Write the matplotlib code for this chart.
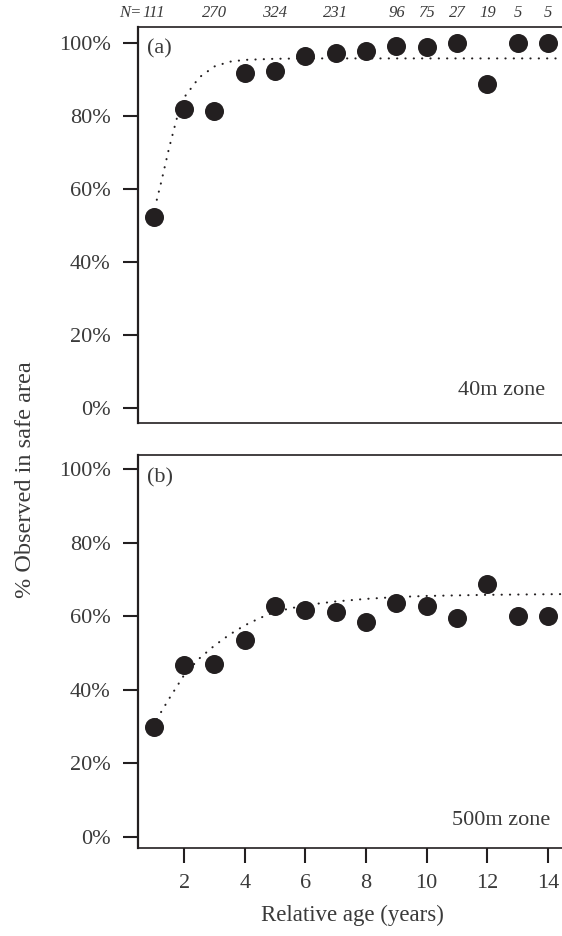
import matplotlib
matplotlib.use("Agg")
from matplotlib import pyplot as plt

# relative age (years)
age = [1, 2, 3, 4, 5, 6, 7, 8, 9, 10, 11, 12, 13, 14]

# % observed in safe area, panel (a) 40m zone
pct_40m = [52.4, 81.8, 81.2, 91.6, 92.2, 96.4, 97.3, 97.7, 99.2, 98.7, 100, 88.8, 100, 100]
# panel (b) 500m zone
pct_500m = [30.0, 46.7, 47.0, 53.5, 62.8, 61.7, 61.2, 58.5, 63.7, 62.8, 59.5, 68.8, 60.0, 60.0]

# fitted curves
fit_x_40m = [1.1, 1.25, 1.5, 1.75, 2, 2.5, 3, 3.5, 4, 5, 6, 8, 10, 12, 14.5]
fit_y_40m = [57, 62, 71, 79, 85, 90.5, 93.5, 94.8, 95.3, 95.6, 95.7, 95.7, 95.7, 95.7, 95.7]
fit_x_500m = [1.1, 1.5, 2, 2.5, 3, 3.5, 4, 4.5, 5, 6, 7, 8, 9, 10, 12, 14.5]
fit_y_500m = [32, 37.5, 44, 48.5, 52, 55, 57.5, 59.5, 61.2, 63, 64, 64.7, 65.2, 65.5, 65.8, 66]

# sample sizes shown above panel (a)
n_x = [1, 3, 5, 7, 9, 10, 11, 12, 13, 14]
n_labels = ["111", "270", "324", "231", "96", "75", "27", "19", "5", "5"]

INK = "#231f20"
TXT = "#3a3a3a"
plt.rcParams["font.family"] = ["Liberation Serif", "DejaVu Serif"]
plt.rcParams["font.size"] = 16

fig = plt.figure(figsize=(5.62, 9.36), dpi=100)
W, H = 562.0, 936.0
left = 138 / W
width = 425.8 / W
ax1 = fig.add_axes([left, (H - 423) / H, width, 396 / H])
ax2 = fig.add_axes([left, (H - 848) / H, width, 393 / H])


def style(ax, ylim, show_x):
    ax.set_xlim(0.48, 14.52)
    ax.set_ylim(*ylim)
    ax.spines["right"].set_visible(False)
    ax.spines["left"].set_linewidth(1.6)
    ax.spines["top"].set_linewidth(1.2)
    ax.spines["bottom"].set_linewidth(1.2)
    for s in ax.spines.values():
        s.set_color(INK)
    ax.set_yticks([0, 20, 40, 60, 80, 100])
    ax.set_yticklabels(["0%", "20%", "40%", "60%", "80%", "100%"])
    ax.tick_params(axis="y", length=10.8, width=1.5, pad=9, colors=INK, labelcolor=TXT)
    if show_x:
        ax.set_xticks([2, 4, 6, 8, 10, 12, 14])
        ax.tick_params(axis="x", length=10.5, width=1.5, pad=8, colors=INK, labelcolor=TXT)
    else:
        ax.set_xticks([])


for ax, y, fx, fy in [(ax1, pct_40m, fit_x_40m, fit_y_40m),
                      (ax2, pct_500m, fit_x_500m, fit_y_500m)]:
    ax.plot(fx, fy, color=INK, lw=1.5, linestyle=(0, (0.1, 3.9)),
            dash_capstyle="round", zorder=2)
    ax.plot(age, y, "o", color=INK, markersize=13.7, markeredgewidth=0, zorder=3, clip_on=False)

style(ax1, (-4.1, 104.3), False)
style(ax2, (-3.0, 103.8), True)

ax1.text(0.021, 0.944, "(a)", transform=ax1.transAxes, ha="left", va="center", color=TXT)
ax2.text(0.021, 0.941, "(b)", transform=ax2.transAxes, ha="left", va="center", color=TXT)
ax1.text(0.956, 0.083, "40m zone", transform=ax1.transAxes, ha="right", va="center", color=TXT)
ax2.text(0.968, 0.071, "500m zone", transform=ax2.transAxes, ha="right", va="center", color=TXT)

trans = ax1.get_xaxis_transform()
for xv, lab in zip(n_x, n_labels):
    ax1.text(xv, 1.035, lab, transform=trans, ha="center", va="center",
             fontsize=12, style="italic", color=TXT, clip_on=False)
ax1.text(0.58, 1.035, "N=", transform=trans, ha="right", va="center",
         fontsize=12, style="italic", color=TXT, clip_on=False)

fig.text(352 / W, (H - 915) / H, "Relative age (years)", ha="center", va="center",
         fontsize=16.5, color=TXT)
fig.text(26 / W, (H - 480) / H, "% Observed in safe area", ha="center", va="center",
         rotation=90, fontsize=17.5, color=TXT)

fig.savefig("out.png", dpi=100)
